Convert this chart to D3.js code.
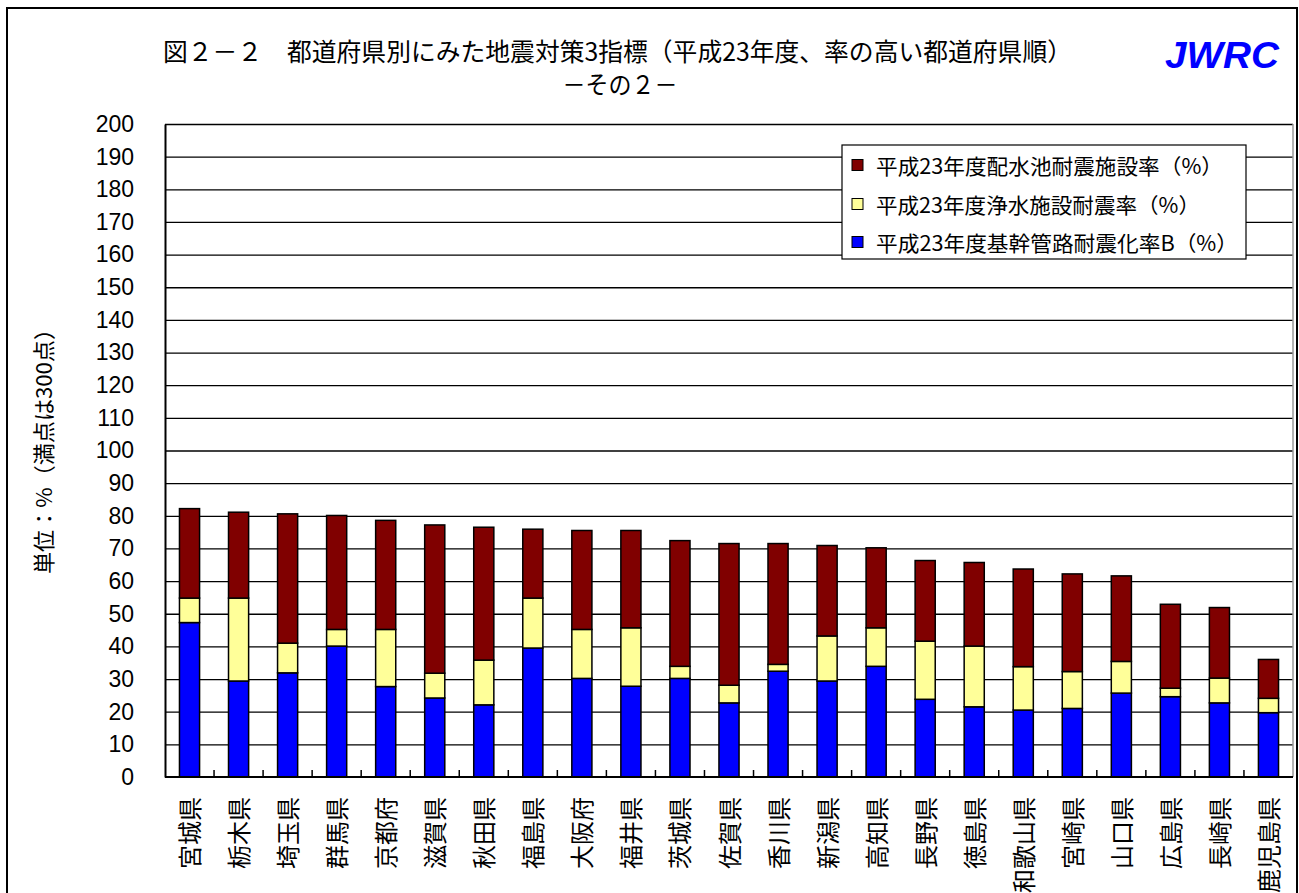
<!DOCTYPE html>
<html>
<head>
<meta charset="utf-8">
<script src="https://cdn.jsdelivr.net/npm/d3@7"></script>
<style>
  html, body { margin: 0; padding: 0; background: #fff; overflow: hidden; }
  svg { display: block; }
</style>
</head>
<body>
<svg id="chart" width="1299" height="893"></svg>
<script>
// ---------- data ----------
const categories = ["宮城県","栃木県","埼玉県","群馬県","京都府","滋賀県","秋田県","福島県","大阪府","福井県","茨城県","佐賀県","香川県","新潟県","高知県","長野県","徳島県","和歌山県","宮崎県","山口県","広島県","長崎県","鹿児島県"];
const pipelineRate = [47.3,29.4,31.9,40.1,27.7,24.2,22.1,39.5,30.2,27.8,30.2,22.7,32.4,29.4,33.9,23.8,21.5,20.5,21.0,25.7,24.6,22.7,19.7];
const purificationRate = [7.5,25.4,9.1,5.1,17.5,7.6,13.7,15.3,15.0,17.9,3.7,5.4,2.1,13.8,11.8,17.8,18.6,13.3,11.3,9.7,2.6,7.6,4.4];
const reservoirRate = [27.4,26.3,39.6,34.9,33.4,45.4,40.7,21.1,30.3,29.8,38.5,43.4,37.0,27.7,24.5,24.7,25.6,29.9,29.9,26.2,25.7,21.6,11.9];
const yTicks = [0,10,20,30,40,50,60,70,80,90,100,110,120,130,140,150,160,170,180,190,200];
const seriesNames = ["平成23年度配水池耐震施設率（%）","平成23年度浄水施設耐震率（%）","平成23年度基幹管路耐震化率B（%）"];
const titleLine1 = "図２－２　都道府県別にみた地震対策3指標（平成23年度、率の高い都道府県順）";
const titleLine2 = "－その２－";
const yTitle = "単位：%（満点は300点）";

// ---------- layout ----------
const svg = d3.select("#chart");
const plot = {left: 165, right: 1293, top: 124, bottom: 777};
const jpFont = "'Noto Sans CJK JP', sans-serif";
const numFont = "'Liberation Sans', Arial, sans-serif";
const colors = {pipe: "#0000FF", purif: "#FFFF99", res: "#800000"};

const rows = categories.map((c, i) => ({cat: c, pipe: pipelineRate[i], purif: purificationRate[i], res: reservoirRate[i]}));
const keys = ["pipe","purif","res"];
const stacked = d3.stack().keys(keys)(rows);

const x = d3.scaleBand().domain(categories).range([plot.left, plot.right]).paddingInner(0.59).paddingOuter(0.295);
const y = d3.scaleLinear().domain([0, 200]).range([plot.bottom, plot.top]);

// outer frame
svg.append("rect").attr("x", 7).attr("y", 8).attr("width", 1290).attr("height", 900)
  .attr("fill", "#fff").attr("stroke", "#000").attr("stroke-width", 2);

// titles
svg.append("text").attr("x", 617.5).attr("y", 61).attr("text-anchor", "middle")
  .attr("font-family", jpFont).attr("font-size", 25).attr("fill", "#000")
  .attr("textLength", 909).attr("lengthAdjust", "spacingAndGlyphs").text(titleLine1);
svg.append("text").attr("x", 620).attr("y", 94).attr("text-anchor", "middle")
  .attr("font-family", jpFont).attr("font-size", 25).attr("fill", "#000")
  .attr("textLength", 115).attr("lengthAdjust", "spacingAndGlyphs").text(titleLine2);
svg.append("text").attr("x", 1165).attr("y", 68)
  .attr("font-family", numFont).attr("font-size", 37).attr("font-weight", "bold").attr("font-style", "italic")
  .attr("fill", "#0000FF").attr("textLength", 114).attr("lengthAdjust", "spacingAndGlyphs").text("JWRC");

// grid lines
const grid = svg.append("g").attr("transform", `translate(${plot.left},0)`)
  .call(d3.axisLeft(y).tickValues(yTicks.filter(v => v > 0)).tickSize(-(plot.right - plot.left)).tickFormat(""));
grid.select(".domain").remove();
grid.selectAll(".tick line").attr("stroke", "#000").attr("stroke-width", 1.3);

// plot right border (gray)
svg.append("line").attr("x1", plot.right).attr("x2", plot.right).attr("y1", plot.top).attr("y2", plot.bottom)
  .attr("stroke", "#999").attr("stroke-width", 1.5);

// y axis labels
const yAxis = svg.append("g").attr("transform", `translate(${plot.left},0)`)
  .call(d3.axisLeft(y).tickValues(yTicks).tickSize(0).tickPadding(31));
yAxis.select(".domain").attr("stroke", "#000").attr("stroke-width", 2);
yAxis.selectAll("text").attr("font-family", numFont).attr("font-size", 23).attr("fill", "#000");

// y axis title
svg.append("text").attr("transform", "translate(42,446) rotate(-90)")
  .attr("text-anchor", "middle").attr("dominant-baseline", "central")
  .attr("font-family", jpFont).attr("font-size", 22).attr("fill", "#000")
  .attr("textLength", 256).attr("lengthAdjust", "spacingAndGlyphs").text(yTitle);

// bars
const colorOf = {pipe: colors.pipe, purif: colors.purif, res: colors.res};
svg.append("g").selectAll("g").data(stacked).join("g")
  .attr("fill", d => colorOf[d.key])
  .selectAll("rect").data(d => d).join("rect")
  .attr("x", d => x(d.data.cat))
  .attr("width", x.bandwidth())
  .attr("y", d => y(d[1]))
  .attr("height", d => y(d[0]) - y(d[1]))
  .attr("stroke", "#000").attr("stroke-width", 1.5);

// x axis line and inner ticks
svg.append("line").attr("x1", plot.left).attr("x2", plot.right).attr("y1", plot.bottom).attr("y2", plot.bottom)
  .attr("stroke", "#000").attr("stroke-width", 2);
const halfGap = (x.step() - x.bandwidth()) / 2;
svg.append("g").selectAll("line").data(categories.slice(1)).join("line")
  .attr("x1", d => x(d) - halfGap).attr("x2", d => x(d) - halfGap)
  .attr("y1", plot.bottom).attr("y2", plot.bottom - 7)
  .attr("stroke", "#000").attr("stroke-width", 1.5);

// x labels (rotated)
svg.append("g").selectAll("text").data(categories).join("text")
  .attr("transform", d => `translate(${x(d) + x.bandwidth() / 2 - 1},797) rotate(-90)`)
  .attr("text-anchor", "end").attr("dominant-baseline", "central")
  .attr("font-family", jpFont).attr("font-size", 24).attr("fill", "#000")
  .text(d => d);

// legend
const legend = svg.append("g");
legend.append("rect").attr("x", 842).attr("y", 145).attr("width", 404).attr("height", 114)
  .attr("fill", "#fff").attr("stroke", "#000").attr("stroke-width", 1.2);
const legendColors = [colors.res, colors.purif, colors.pipe];
const legendY = [165, 204, 242];
const legendLen = [347, 324, 362];
seriesNames.forEach((name, i) => {
  legend.append("rect").attr("x", 852).attr("y", legendY[i] - 5.5).attr("width", 11).attr("height", 11)
    .attr("fill", legendColors[i]).attr("stroke", "#000").attr("stroke-width", 1);
  legend.append("text").attr("x", 876).attr("y", legendY[i]).attr("dominant-baseline", "central")
    .attr("font-family", jpFont).attr("font-size", 21).attr("fill", "#000")
    .attr("textLength", legendLen[i]).attr("lengthAdjust", "spacingAndGlyphs").text(name);
});
</script>
</body>
</html>
